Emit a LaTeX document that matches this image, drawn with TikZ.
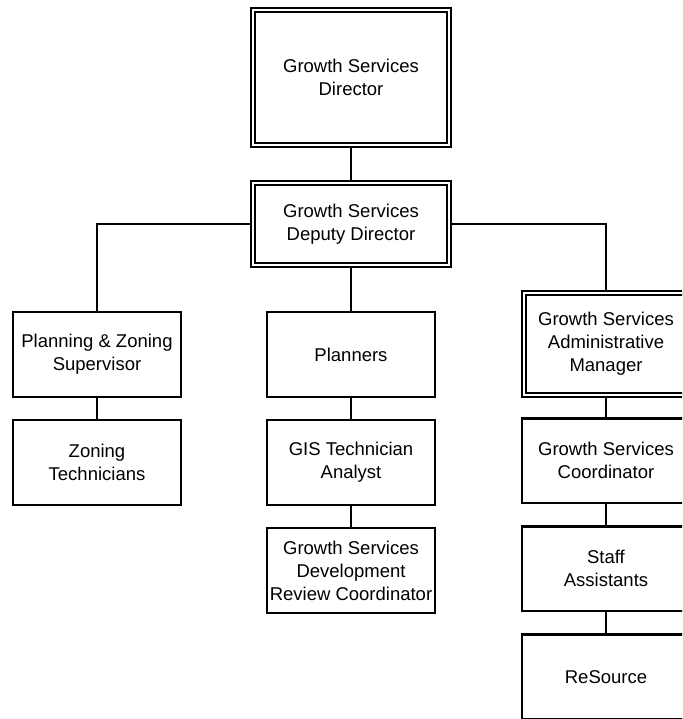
\documentclass[tikz,border=0pt]{standalone}
\usepackage{fontspec}
\setmainfont{Liberation Sans}
\usetikzlibrary{positioning, backgrounds}
\tikzset
{%
box/.style={draw, fill=white, line width=2.3pt, minimum width=167.7pt, minimum height=84.7pt,
	inner sep=0pt, outer sep=0pt, align=center, font=\fontsize{18.5}{23}\selectfont},
dbox/.style={box, double, double distance=1.8pt, line width=2pt},
link/.style={line width=2.5pt}
}
\begin{document}
\begin{tikzpicture}[x=1pt, y=-1pt, node distance=23.3pt]
	\useasboundingbox (0,0) rectangle (682,719);
	\clip (0,0) rectangle (682,719);

	% TOP
	\node[dbox, minimum width=196.2pt, minimum height=135.2pt] (dir) at (351,77.5) {Growth Services\\Director};
	\node[dbox, minimum width=196.2pt, minimum height=81.2pt] (dep) at (351,224) {Growth Services\\Deputy Director};

	% LEFT COLUMN
	\node[box] (pz) at (97,354.5) {Planning \& Zoning\\Supervisor};
	\node[box, below=of pz] (zt) {Zoning\\Technicians};

	% MIDDLE COLUMN
	\node[box] (plan) at (351,354.5) {Planners};
	\node[box, below=of plan] (gis) {GIS Technician\\Analyst};
	\node[box, below=of gis] (dev) {Growth Services\\Development\\Review Coordinator};

	% RIGHT COLUMN
	\node[dbox, minimum width=164.2pt, minimum height=102.2pt] (adm) at (606,344) {Growth Services\\Administrative\\Manager};
	\node[box, below=of adm] (coord) {Growth Services\\Coordinator};
	\node[box, below=of coord] (staff) {Staff\\Assistants};
	\node[box, below=of staff] (res) {ReSource};

	\begin{scope}[on background layer]
		\draw[link] (dir) -- (dep);
		\draw[link] (dep.west) -| (pz.north);
		\draw[link] (dep.east) -| (adm.north);
		\draw[link] (dep) -- (plan);
		\draw[link] (pz) -- (zt);
		\draw[link] (plan) -- (gis);
		\draw[link] (gis) -- (dev);
		\draw[link] (adm) -- (coord);
		\draw[link] (coord) -- (staff);
		\draw[link] (staff) -- (res);
	\end{scope}
\end{tikzpicture}
\end{document}
